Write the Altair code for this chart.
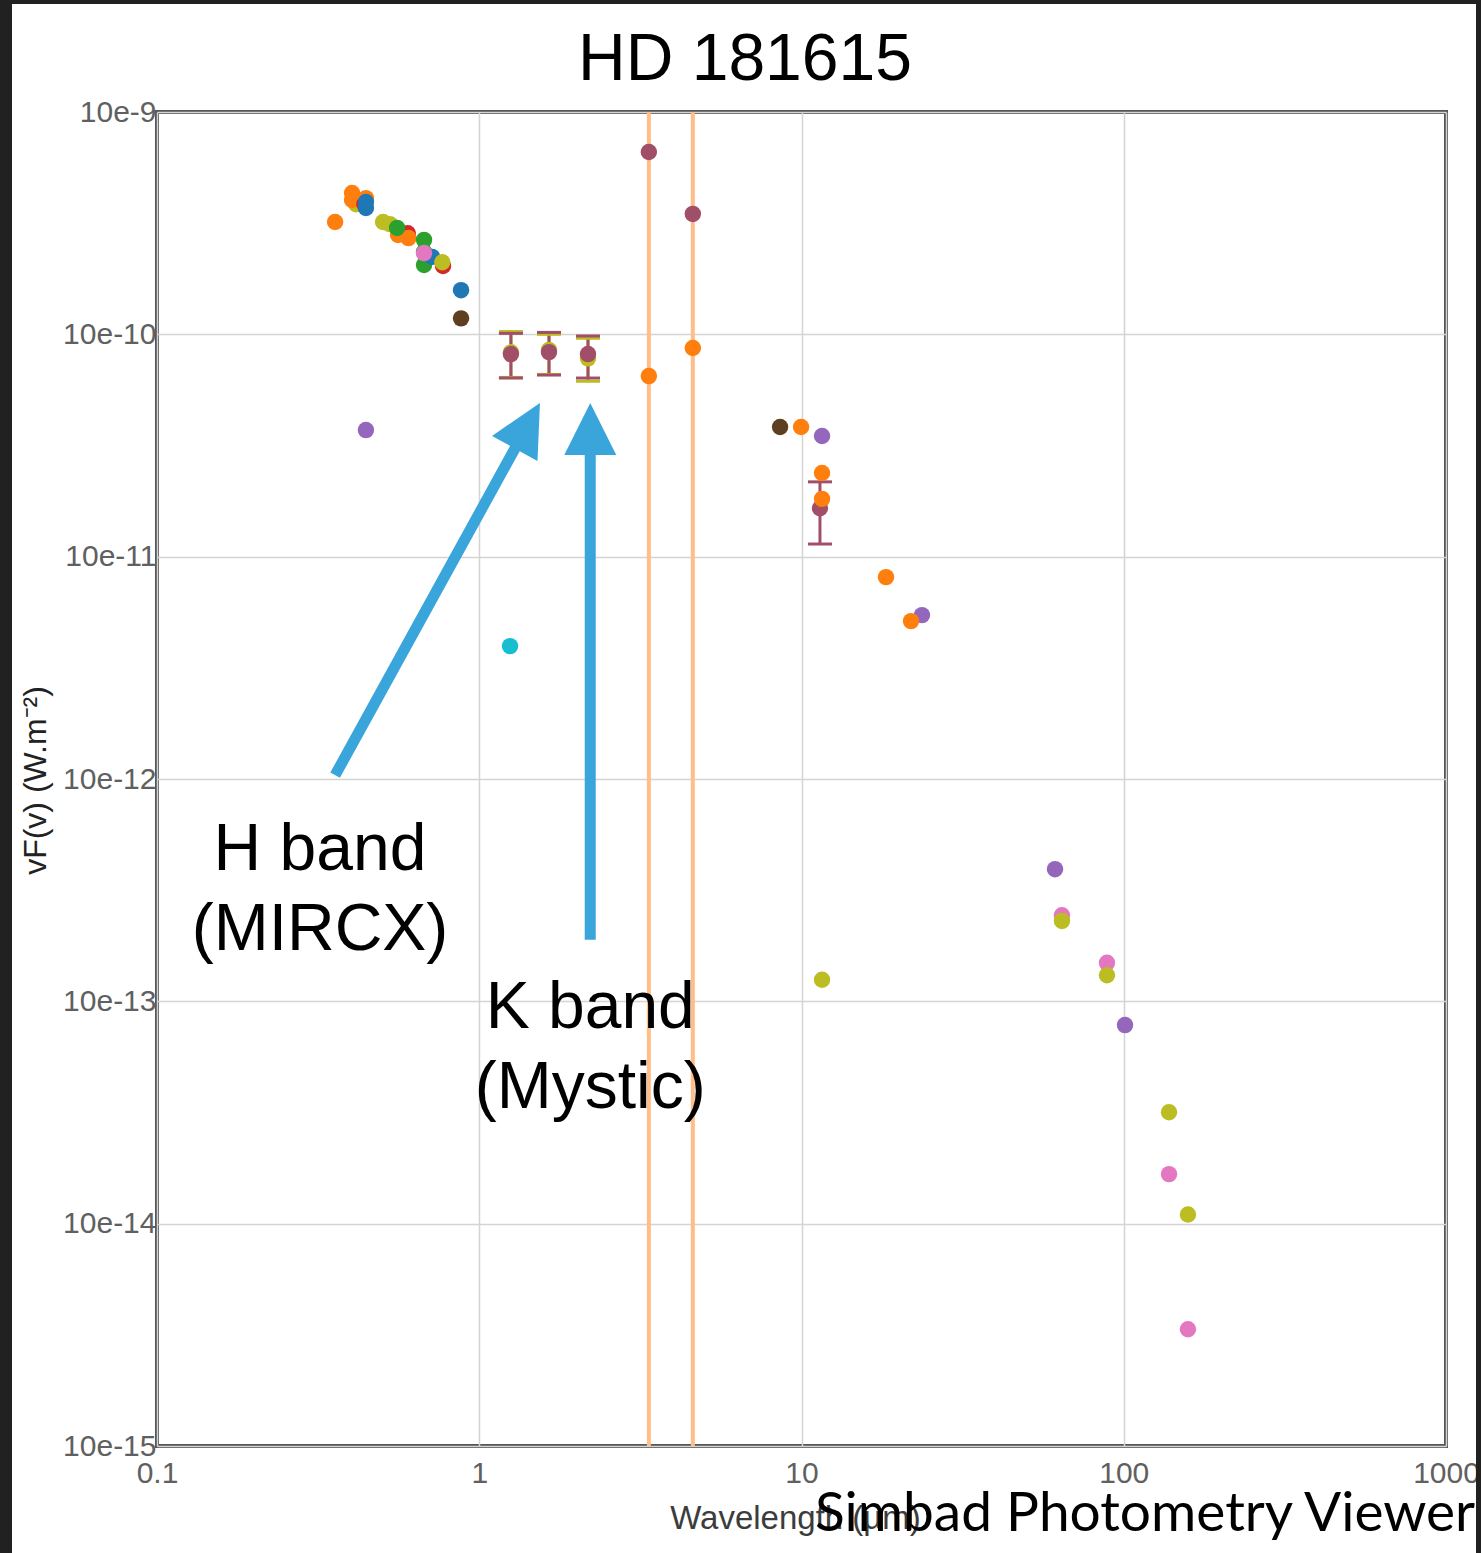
import altair as alt
import pandas as pd

# ---- photometry points: wavelength (µm), nu F(nu), colour key ----
pt_wave = [0.357, 0.403, 0.415, 0.403, 0.440, 0.445, 0.445, 0.445,
           0.503, 0.528, 0.600, 0.560, 0.603, 0.556,
           0.674, 0.674, 0.674, 0.714, 0.674, 0.772, 0.768,
           0.878, 0.878, 0.445, 1.246,
           3.36, 3.36, 4.60, 4.60,
           8.58, 9.97, 11.58, 11.58, 11.58, 18.29, 23.65, 21.87, 11.58,
           61.2, 64.3, 64.3, 88.7, 88.7, 100.9, 138.2, 138.2, 158.2, 158.2]
pt_flux = [3.20e-10, 4.32e-10, 3.85e-10, 4.02e-10, 3.85e-10, 4.10e-10, 3.70e-10, 3.94e-10,
           3.20e-10, 3.13e-10, 2.85e-10, 2.80e-10, 2.71e-10, 3.01e-10,
           2.66e-10, 2.35e-10, 2.05e-10, 2.23e-10, 2.32e-10, 2.03e-10, 2.11e-10,
           1.58e-10, 1.18e-10, 3.71e-11, 3.96e-12,
           6.61e-10, 6.49e-11, 3.48e-10, 8.68e-11,
           3.83e-11, 3.83e-11, 3.49e-11, 2.38e-11, 1.82e-11, 8.09e-12, 5.46e-12, 5.13e-12, 1.25e-13,
           3.93e-13, 2.44e-13, 2.30e-13, 1.49e-13, 1.31e-13, 7.82e-14, 3.17e-14, 1.67e-14, 1.10e-14, 3.35e-15]
pt_key = ["O", "O", "Y", "O", "R", "O", "B", "B",
          "Y", "Y", "R", "O", "O", "G",
          "G", "G", "G", "B", "I", "R", "Y",
          "B", "K", "P", "C",
          "M", "O", "M", "O",
          "K", "O", "P", "O", "O", "O", "P", "O", "Y",
          "P", "I", "Y", "I", "Y", "P", "Y", "I", "Y", "I"]

# ---- points with error bars ----
eb_wave = [1.254, 1.646, 2.175, 1.254, 1.646, 2.175, 11.41]
eb_flux = [8.30e-11, 8.50e-11, 7.80e-11, 8.15e-11, 8.32e-11, 8.15e-11, 1.65e-11]
eb_lo = [6.40e-11, 6.60e-11, 6.15e-11, 6.36e-11, 6.56e-11, 6.36e-11, 1.14e-11]
eb_hi = [1.03e-10, 1.00e-10, 9.60e-11, 1.01e-10, 1.02e-10, 9.83e-11, 2.17e-11]
eb_key = ["Y", "Y", "Y", "M", "M", "M", "M"]

# ---- WISE band markers (µm) ----
band_lines = [3.36, 4.60]

# ---- colour keys ----
color_keys = ["B", "O", "G", "R", "P", "K", "I", "Y", "C", "M"]
color_vals = ["#1f77b4", "#ff7f0e", "#2ca02c", "#d62728", "#9467bd",
              "#5e3f20", "#e377c2", "#bcbd22", "#17becf", "#a14f68"]

# ---- annotation arrows (tail, shaft end, tip, rotation) ----
arr_x0 = [0.357, 2.21]
arr_y0 = [1.04e-12, 1.89e-13]
arr_x1 = [1.411, 2.21]
arr_y1 = [3.88e-11, 3.71e-11]
arr_xt = [1.543, 2.21]
arr_yt = [4.91e-11, 4.91e-11]
arr_ang = [29, 0]

# ---- annotation labels ----
lab_x = [0.3205, 0.3205, 2.21, 2.21]
lab_y = [4.79e-13, 2.09e-13, 9.32e-14, 4.07e-14]
lab_text = ["H band", "(MIRCX)", "K band", "(Mystic)"]

x_ticks = [0.1, 1, 10, 100, 1000]
y_ticks = [1e-15, 1e-14, 1e-13, 1e-12, 1e-11, 1e-10, 1e-9]

W, H = 1289, 1334
FONT = "Liberation Sans"

X_SCALE = alt.Scale(type="log", domain=[0.1, 1000], nice=False)
Y_SCALE = alt.Scale(type="log", domain=[1e-15, 1e-9], nice=False)

x_axis = alt.Axis(values=x_ticks, format="~g", labelFlush=False, labelOverlap=False,
                  ticks=False, tickSize=0, domain=False, labelPadding=12,
                  labelFontSize=30, labelColor="#606060", labelFont=FONT,
                  title="Wavelength (µm)", titleX=638, titleY=72,
                  titleBaseline="middle", titleAlign="center",
                  titleFontSize=33, titleFontWeight="normal", titleColor="#3c3c3c",
                  titleFont=FONT, grid=True, gridColor="#d4d4d4", gridWidth=1.5)
y_axis = alt.Axis(values=y_ticks, labelExpr="'10e' + round(log(datum.value) / LN10)",
                  labelOverlap=False, ticks=False, tickSize=0, domain=False,
                  labelPadding=1, labelFontSize=30, labelColor="#606060", labelFont=FONT,
                  title="vF(v) (W.m⁻²)", titleX=-122, titleY=668, titleAngle=270,
                  titleAlign="center", titleBaseline="middle",
                  titleFontSize=32, titleFontWeight="normal", titleColor="#222222",
                  titleFont=FONT, grid=True, gridColor="#d4d4d4", gridWidth=1.5)


def xenc(field):
    return alt.X(f"{field}:Q", scale=X_SCALE, axis=x_axis)


def yenc(field):
    return alt.Y(f"{field}:Q", scale=Y_SCALE, axis=y_axis)


color_enc = alt.Color("c:N", scale=alt.Scale(domain=color_keys, range=color_vals), legend=None)

pts = pd.DataFrame({"x": pt_wave, "y": pt_flux, "c": pt_key})
ebs = pd.DataFrame({"x": eb_wave, "y": eb_flux, "lo": eb_lo, "hi": eb_hi, "c": eb_key})
lines = pd.DataFrame({"x": band_lines})
arrows = pd.DataFrame({"x0": arr_x0, "y0": arr_y0, "x1": arr_x1, "y1": arr_y1,
                       "xt": arr_xt, "yt": arr_yt, "ang": arr_ang})
labels = pd.DataFrame({"x": lab_x, "y": lab_y, "t": lab_text})
one = pd.DataFrame({"k": [0]})

DOT = 270

band_rules = alt.Chart(lines).mark_rule(color="#ffbd88", strokeWidth=4).encode(x=xenc("x"))

eb_stem = alt.Chart(ebs).mark_rule(strokeWidth=3).encode(
    x=xenc("x"), y=yenc("lo"), y2="hi:Q", color=color_enc)
eb_cap_hi = alt.Chart(ebs).mark_tick(orient="horizontal", size=24, thickness=3, opacity=1).encode(
    x=xenc("x"), y=yenc("hi"), color=color_enc)
eb_cap_lo = alt.Chart(ebs).mark_tick(orient="horizontal", size=24, thickness=3, opacity=1).encode(
    x=xenc("x"), y=yenc("lo"), color=color_enc)
eb_pts = alt.Chart(ebs).mark_circle(size=DOT, opacity=1).encode(
    x=xenc("x"), y=yenc("y"), color=color_enc)

points = alt.Chart(pts).mark_circle(size=DOT, opacity=1).encode(
    x=xenc("x"), y=yenc("y"), color=color_enc)

ARROW_BLUE = "#39a5db"
shafts = alt.Chart(arrows).mark_rule(color=ARROW_BLUE, strokeWidth=11, strokeCap="butt").encode(
    x=xenc("x0"), y=yenc("y0"), x2="x1:Q", y2="y1:Q")
heads = alt.Chart(arrows).mark_point(shape="M0,0L0.5,1L-0.5,1Z", filled=True, size=10816,
                                     color=ARROW_BLUE, opacity=1, strokeWidth=0).encode(
    x=xenc("xt"), y=yenc("yt"), angle=alt.Angle("ang:Q", scale=None))

notes = alt.Chart(labels).mark_text(font=FONT, fontSize=66, color="black",
                                    align="center", baseline="middle").encode(
    x=xenc("x"), y=yenc("y"), text="t:N")

title = alt.Chart(one).mark_text(text="HD 181615", font=FONT, fontSize=66, color="black",
                                 align="center", baseline="alphabetic").encode(
    x=alt.value(588), y=alt.value(-32))
viewer = alt.Chart(one).mark_text(text="Simbad Photometry Viewer", font="Lato", fontSize=55,
                                  color="black", align="left", baseline="alphabetic").encode(
    x=alt.value(658), y=alt.value(1419))

# dark surround of the frame
DARK = "#212121"
strip_left = alt.Chart(one).mark_rect(color=DARK).encode(
    x=alt.value(-157), x2=alt.value(-145), y=alt.value(-112), y2=alt.value(1441))
strip_top = alt.Chart(one).mark_rect(color=DARK).encode(
    x=alt.value(-157), x2=alt.value(1324), y=alt.value(-112), y2=alt.value(-108))
strip_right = alt.Chart(one).mark_rect(color=DARK).encode(
    x=alt.value(1319), x2=alt.value(1324), y=alt.value(-112), y2=alt.value(1441))

chart = alt.layer(
    band_rules, eb_stem, eb_cap_hi, eb_cap_lo, eb_pts, points,
    shafts, heads, notes, title, viewer, strip_left, strip_top, strip_right
).properties(
    width=W, height=H,
    autosize=alt.AutoSizeParams(type="none"),
    padding={"left": 157, "top": 112, "right": 35, "bottom": 107},
    background="white",
).configure_view(
    stroke="#565656", strokeWidth=4
)

chart.save("out.html", embed_options={"renderer": "svg", "actions": False})
